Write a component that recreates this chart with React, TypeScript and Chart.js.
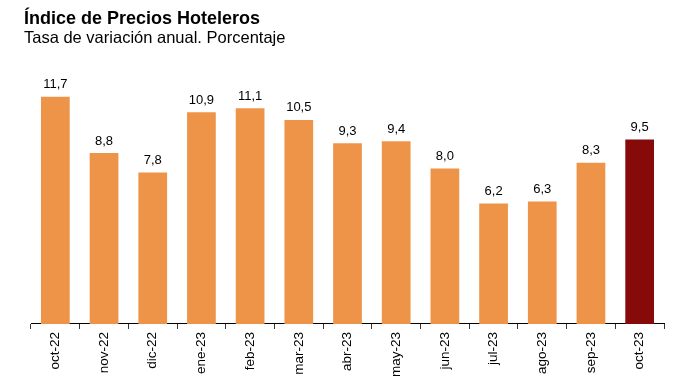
import React, { useEffect, useRef } from "react";
import { Chart, registerables } from "chart.js";

Chart.register(...registerables);

const TITLE = "Índice de Precios Hoteleros";
const SUBTITLE = "Tasa de variación anual. Porcentaje";

const categories = [
  "oct-22", "nov-22", "dic-22", "ene-23", "feb-23", "mar-23", "abr-23",
  "may-23", "jun-23", "jul-23", "ago-23", "sep-23", "oct-23",
];
const values = [11.7, 8.8, 7.8, 10.9, 11.1, 10.5, 9.3, 9.4, 8.0, 6.2, 6.3, 8.3, 9.5];

const ORANGE = "#EE9448";
const DARK_RED = "#870A0A";
const barColors = categories.map((_, i) => (i === categories.length - 1 ? DARK_RED : ORANGE));

const fmt = (v: number) => v.toFixed(1).replace(".", ",");

const titlePlugin = {
  id: "customTitle",
  afterDraw(chart: any) {
    const ctx = chart.ctx;
    ctx.save();
    ctx.fillStyle = "#000";
    ctx.textAlign = "left";
    ctx.textBaseline = "alphabetic";
    ctx.font = "bold 18px 'Liberation Sans', Arial, sans-serif";
    ctx.fillText(TITLE, 24, 24);
    ctx.font = "16.5px 'Liberation Sans', Arial, sans-serif";
    ctx.fillText(SUBTITLE, 24, 42.5);
    ctx.restore();
  },
};

const valueLabels = {
  id: "valueLabels",
  afterDatasetsDraw(chart: any) {
    const ctx = chart.ctx;
    const meta = chart.getDatasetMeta(0);
    ctx.save();
    ctx.fillStyle = "#000";
    ctx.textAlign = "center";
    ctx.textBaseline = "alphabetic";
    ctx.font = "13px 'Liberation Sans', Arial, sans-serif";
    meta.data.forEach((bar: any, i: number) => {
      ctx.fillText(fmt(values[i]), bar.x, bar.y - 8.5);
    });
    ctx.restore();
  },
};

export default function App() {
  const ref = useRef<HTMLCanvasElement | null>(null);
  useEffect(() => {
    if (!ref.current) return;
    const chart = new Chart(ref.current, {
      type: "bar",
      data: {
        labels: categories,
        datasets: [
          {
            data: values,
            backgroundColor: barColors,
            borderWidth: 0,
            categoryPercentage: 1,
            barPercentage: 0.59,
          },
        ],
      },
      options: {
        animation: false,
        responsive: true,
        maintainAspectRatio: false,
        layout: { padding: { left: 31, right: 29, top: 52, bottom: 10 } },
        plugins: {
          legend: { display: false },
          title: { display: false },
          tooltip: { enabled: false },
        },
        scales: {
          x: {
            grid: {
              offset: true,
              drawOnChartArea: false,
              drawTicks: true,
              tickLength: 5,
              color: "#333",
            },
            border: { display: true, color: "#000", width: 1 },
            ticks: {
              minRotation: 90,
              maxRotation: 90,
              padding: 3,
              color: "#000",
              font: { family: "'Liberation Sans', Arial, sans-serif", size: 13.5 },
            },
          },
          y: {
            display: false,
            min: 0,
            max: 14,
          },
        },
      },
      plugins: [titlePlugin, valueLabels],
    });
    return () => chart.destroy();
  }, []);
  return (
    <div style={{ position: "absolute", left: 0, top: 0, width: 693, height: 390, background: "#fff" }}>
      <canvas ref={ref} />
    </div>
  );
}
